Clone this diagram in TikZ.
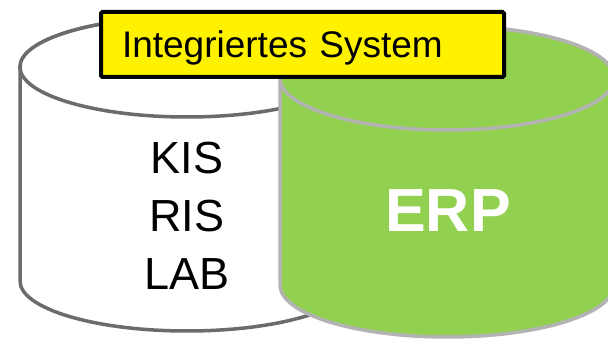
\documentclass[tikz,border=0pt]{standalone}
\usepackage{fontspec}
\setmainfont{Liberation Sans}
\usepackage{tikz}
\usepackage{xcolor}
\definecolor{erpgreen}{HTML}{92D050}
\definecolor{darkrim}{HTML}{6B6B6B}
\definecolor{lightrim}{HTML}{B3B3B3}
\tikzset{tank/.style={fill=white, draw=darkrim, line width=3.5pt}}
\tikzset{erptank/.style={fill=erpgreen, draw=lightrim, line width=3.5pt}}
\tikzset{yellowbox/.style={fill=yellow, draw=black, line width=4pt, rounded corners=1.5pt}}

\begin{document}
\begin{tikzpicture}[x=1pt, y=1pt]
  \useasboundingbox (0,0) rectangle (608,340);
  \clip (0,0) rectangle (608,340);

  % left cylinder
  \draw[tank] (20,273) -- (20,59) arc[start angle=180, end angle=360, x radius=167pt, y radius=50pt]
    -- (354,273) arc[start angle=0, end angle=180, x radius=167pt, y radius=50pt] -- cycle;
  \draw[tank] (187,273) ellipse [x radius=167pt, y radius=50pt];

  % right cylinder
  \draw[erptank] (280,262) -- (280,55) arc[start angle=180, end angle=360, x radius=167pt, y radius=52pt]
    -- (614,262) arc[start angle=0, end angle=180, x radius=167pt, y radius=52pt] -- cycle;
  \draw[erptank] (447,262) ellipse [x radius=167pt, y radius=52pt];

  \node[align=center, inner sep=0pt, font=\fontsize{45}{58}\selectfont] (kis) at (187,124) {KIS\\RIS\\LAB};
  \node[inner sep=0pt, text=white, font=\fontsize{61}{70}\selectfont\bfseries] (erp) at (448,129.5) {ERP};

  \node[yellowbox, anchor=west, text width=361pt, inner xsep=21pt, inner ysep=0pt,
        minimum height=65pt, text depth=0pt, font=\fontsize{37}{44}\selectfont] (sys) at (99,295.5) {Integriertes System};

\end{tikzpicture}
\end{document}
